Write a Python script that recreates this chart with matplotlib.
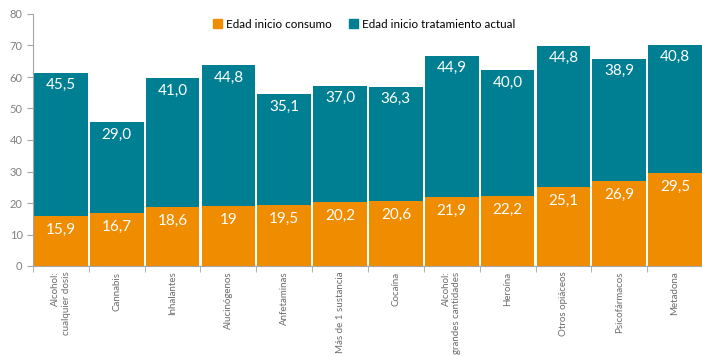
import numpy as np
import matplotlib
matplotlib.use("Agg")
import matplotlib.pyplot as plt
from matplotlib.patches import Patch

plt.rcParams["font.family"] = ["Lato", "DejaVu Sans"]

# data
categories = [
    "Alcohol:\ncualquier dosis", "Cannabis", "Inhalantes", "Alucinógenos",
    "Anfetaminas", "Más de 1 sustancia", "Cocaína", "Alcohol:\ngrandes cantidades",
    "Heroína", "Otros opiáceos", "Psicofármacos", "Metadona",
]
inicio_consumo = [15.9, 16.7, 18.6, 19, 19.5, 20.2, 20.6, 21.9, 22.2, 25.1, 26.9, 29.5]
inicio_tratamiento = [45.5, 29.0, 41.0, 44.8, 35.1, 37.0, 36.3, 44.9, 40.0, 44.8, 38.9, 40.8]
consumo_labels = ["15,9", "16,7", "18,6", "19", "19,5", "20,2", "20,6", "21,9",
                  "22,2", "25,1", "26,9", "29,5"]
tratamiento_labels = ["45,5", "29,0", "41,0", "44,8", "35,1", "37,0", "36,3", "44,9",
                      "40,0", "44,8", "38,9", "40,8"]

ORANGE = "#F08C00"
TEAL = "#007F92"
GREY = "#A6A6A6"

fig = plt.figure(figsize=(7.02, 3.56), dpi=100)
ax = fig.add_axes([33 / 702, 90 / 356, 670 / 702, 252 / 356])

x = np.arange(len(categories))
ax.bar(x, inicio_consumo, width=0.96, color=ORANGE, edgecolor="none")
ax.bar(x, inicio_tratamiento, width=0.96, bottom=inicio_consumo,
       color=TEAL, edgecolor="none")

# value labels just below the top of each segment
for i in range(len(categories)):
    ax.annotate(consumo_labels[i], (x[i], inicio_consumo[i]), xytext=(0, -10),
                textcoords="offset points", ha="center", va="center",
                color="white", fontsize=11)
    top = inicio_consumo[i] + inicio_tratamiento[i]
    ax.annotate(tratamiento_labels[i], (x[i], top), xytext=(0, -9),
                textcoords="offset points", ha="center", va="center",
                color="white", fontsize=11)

ax.set_xlim(-0.5, len(categories) - 0.5)
ax.set_ylim(0, 80)
ax.set_yticks(range(0, 81, 10))

# category labels at centers, tick marks at boundaries
ax.set_xticks(x)
ax.set_xticklabels(categories, rotation=90, ha="center", va="top",
                   multialignment="right", fontsize=7, color="#6b6b6b")
ax.tick_params(axis="x", length=0, pad=4)
ax.set_xticks(np.arange(-0.5, len(categories), 1), minor=True)
ax.tick_params(axis="x", which="minor", length=4, color=GREY)
ax.tick_params(axis="y", length=4, color=GREY, labelcolor="#808080", labelsize=8)

for side in ["top", "right"]:
    ax.spines[side].set_visible(False)
for side in ["left", "bottom"]:
    ax.spines[side].set_color(GREY)

handles = [Patch(color=ORANGE, label="Edad inicio consumo"),
           Patch(color=TEAL, label="Edad inicio tratamiento actual")]
fig.legend(handles=handles, loc="center", bbox_to_anchor=(364 / 702, 1 - 24 / 356),
           ncol=2, frameon=False, fontsize=8.4, handlelength=0.8, handleheight=0.8,
           handletextpad=0.3, columnspacing=1.5)

fig.savefig("out.png", dpi=100)
